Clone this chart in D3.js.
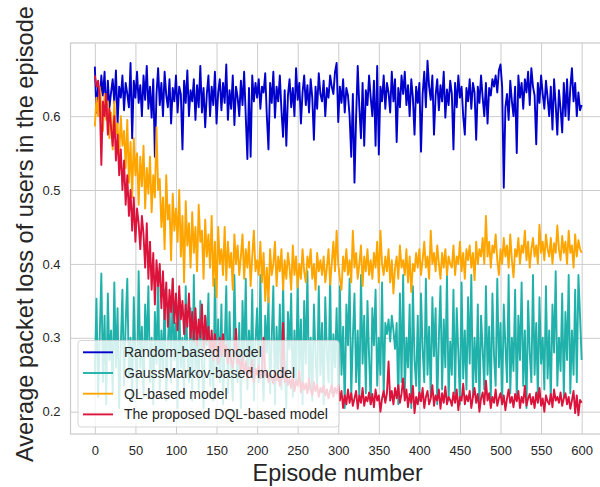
<!DOCTYPE html>
<html><head><meta charset="utf-8">
<script src="https://cdn.jsdelivr.net/npm/d3@7"></script>
<style>body{margin:0;background:#fff}svg{display:block}</style>
</head><body>
<svg id="chart" width="600" height="487"></svg>
<script>
// Episodes sampled every 2 episodes (0..600)
const episodes = d3.range(0, 601, 2);
const seriesNames = ["Random-based model", "GaussMarkov-based model", "QL-based model", "The proposed DQL-based model"];
const seriesColors = ["#0000cd", "#20b2aa", "#ffa500", "#dc143c"];
const xTickValues = [0, 50, 100, 150, 200, 250, 300, 350, 400, 450, 500, 550, 600];
const yTickValues = [0.2, 0.3, 0.4, 0.5, 0.6];

const randomModel = [
.667,.605,.640,.615,.655,.628,.660,.598,.648,.612,
.632,.650,.618,.662,.590,.640,.625,.655,.608,.645,
.630,.612,.672,.570,.648,.625,.660,.618,.642,.600,
.655,.622,.668,.610,.640,.598,.650,.545,.630,.665,
.615,.645,.600,.660,.628,.612,.650,.590,.638,.620,
.655,.605,.640,.630,.555,.648,.618,.662,.600,.635,
.620,.650,.595,.642,.612,.668,.605,.638,.585,.630,
.655,.600,.640,.615,.660,.590,.632,.650,.608,.645,
.618,.670,.595,.635,.610,.655,.588,.640,.625,.600,
.648,.615,.660,.600,.542,.638,.545,.655,.620,.645,
.625,.650,.610,.640,.632,.658,.600,.555,.645,.618,
.660,.598,.640,.620,.655,.608,.572,.635,.560,.628,
.650,.612,.638,.600,.665,.622,.645,.590,.632,.655,
.615,.642,.605,.650,.625,.568,.640,.610,.658,.630,
.620,.648,.600,.638,.625,.655,.640,.630,.660,.672,
.592,.640,.618,.650,.605,.638,.628,.600,.545,.630,
.510,.598,.668,.612,.570,.645,.560,.635,.615,.655,
.625,.600,.648,.560,.668,.548,.640,.620,.655,.610,
.645,.632,.605,.660,.620,.650,.565,.638,.612,.655,
.630,.660,.615,.642,.600,.650,.625,.575,.640,.618,
.645,.552,.630,.660,.612,.675,.640,.622,.655,.575,
.628,.650,.608,.642,.620,.660,.598,.636,.615,.648,
.630,.555,.645,.612,.655,.625,.640,.600,.575,.638,
.620,.650,.610,.645,.632,.568,.640,.618,.655,.625,
.600,.645,.590,.638,.628,.650,.640,.655,.632,.662,
.670,.640,.503,.612,.630,.595,.648,.620,.600,.640,
.550,.655,.625,.645,.610,.650,.632,.660,.615,.665,
.640,.628,.562,.645,.618,.655,.630,.610,.648,.625,
.600,.640,.582,.650,.615,.575,.635,.610,.578,.645,
.600,.650,.595,.638,.665,.620,.645,.600,.632,.608,
.615];

const gaussMarkovModel = [
.250,.353,.220,.300,.387,.240,.330,.210,.360,.270,
.310,.225,.375,.260,.340,.205,.290,.365,.235,.320,
.380,.245,.300,.215,.355,.275,.230,.390,.260,.315,
.220,.345,.285,.370,.240,.300,.210,.335,.265,.385,
.230,.310,.255,.365,.215,.290,.345,.240,.380,.270,
.320,.205,.355,.260,.300,.225,.370,.280,.240,.340,
.215,.385,.250,.310,.230,.350,.270,.205,.330,.290,
.360,.235,.300,.215,.380,.255,.325,.240,.345,.210,
.290,.370,.225,.335,.260,.215,.385,.280,.240,.320,
.205,.350,.270,.380,.230,.310,.255,.365,.215,.295,
.340,.240,.385,.260,.215,.330,.280,.355,.225,.300,
.370,.210,.315,.250,.345,.230,.375,.265,.205,.335,
.285,.360,.220,.310,.240,.380,.255,.325,.210,.350,
.265,.390,.230,.300,.215,.345,.275,.235,.370,.250,
.320,.210,.355,.280,.240,.385,.225,.305,.260,.340,
.230,.370,.250,.315,.205,.345,.290,.380,.220,.300,
.360,.240,.310,.215,.385,.265,.330,.225,.350,.275,
.210,.340,.290,.365,.235,.300,.250,.375,.220,.320,
.305,.325,.295,.330,.310,.285,.320,.210,.360,.240,
.385,.225,.300,.260,.345,.205,.370,.270,.235,.330,
.215,.360,.285,.240,.380,.250,.315,.220,.355,.275,
.340,.210,.300,.370,.230,.325,.260,.385,.215,.295,
.250,.365,.225,.340,.280,.210,.375,.245,.310,.230,
.355,.265,.385,.220,.300,.240,.345,.205,.330,.285,
.230,.370,.250,.315,.215,.360,.275,.235,.380,.260,
.320,.210,.345,.290,.240,.385,.225,.300,.255,.365,
.215,.330,.270,.375,.235,.310,.205,.350,.280,.240,
.385,.250,.320,.220,.355,.265,.300,.230,.370,.245,
.310,.215,.345,.280,.390,.235,.300,.255,.360,.220,
.335,.270,.385,.225,.310,.250,.365,.240,.385,.330,
.270];

const qlModel = [
.586,.625,.600,.640,.610,.580,.630,.595,.620,.570,
.605,.555,.620,.575,.590,.545,.600,.560,.580,.530,
.595,.510,.565,.490,.570,.520,.550,.480,.545,.505,
.560,.475,.530,.495,.545,.470,.520,.490,.585,.500,
.515,.450,.490,.420,.520,.460,.480,.405,.495,.445,
.475,.430,.500,.410,.465,.375,.485,.425,.455,.395,
.470,.415,.450,.390,.480,.430,.445,.380,.460,.410,
.440,.395,.465,.370,.430,.355,.450,.400,.420,.385,
.450,.378,.430,.395,.415,.365,.440,.400,.425,.385,
.410,.440,.380,.420,.395,.430,.370,.410,.445,.390,
.405,.385,.430,.375,.415,.350,.395,.348,.420,.385,
.400,.430,.370,.410,.390,.420,.365,.405,.380,.415,
.395,.365,.425,.385,.410,.368,.400,.380,.420,.390,
.375,.410,.395,.420,.380,.400,.365,.415,.390,.405,
.385,.410,.375,.395,.420,.372,.400,.430,.390,.445,
.400,.380,.365,.410,.390,.420,.385,.405,.375,.445,
.395,.415,.380,.400,.425,.370,.410,.390,.420,.385,
.405,.380,.415,.395,.430,.375,.445,.400,.385,.410,
.390,.420,.375,.405,.360,.395,.410,.380,.425,.395,
.405,.385,.420,.375,.410,.362,.400,.390,.415,.395,
.420,.385,.405,.430,.395,.410,.380,.445,.400,.415,
.390,.425,.400,.380,.415,.395,.420,.385,.410,.400,
.395,.425,.385,.410,.400,.430,.390,.415,.380,.420,
.405,.425,.395,.415,.378,.430,.400,.420,.410,.435,
.400,.465,.410,.430,.395,.425,.415,.440,.405,.385,
.420,.400,.435,.410,.425,.395,.440,.405,.382,.420,
.410,.435,.400,.425,.415,.445,.405,.430,.395,.420,
.435,.410,.425,.400,.453,.415,.430,.405,.440,.420,
.410,.435,.400,.428,.415,.452,.420,.405,.438,.415,
.430,.400,.445,.415,.425,.395,.440,.410,.432,.420,
.415];

const dqlModel = [
.655,.640,.648,.625,.534,.620,.600,.630,.575,.610,
.585,.560,.600,.540,.575,.520,.555,.500,.540,.480,
.520,.465,.500,.445,.490,.430,.475,.455,.420,.465,
.440,.395,.455,.380,.430,.365,.415,.345,.405,.370,
.400,.340,.390,.325,.375,.315,.365,.335,.380,.320,
.360,.310,.370,.325,.350,.305,.345,.315,.360,.300,
.335,.295,.340,.290,.325,.300,.345,.285,.330,.295,
.315,.280,.310,.270,.305,.285,.265,.300,.275,.305,
.275,.290,.265,.285,.270,.260,.280,.312,.265,.270,
.255,.275,.250,.268,.245,.260,.252,.270,.240,.258,
.250,.262,.245,.258,.300,.248,.255,.240,.252,.245,
.238,.255,.242,.250,.235,.248,.320,.240,.252,.236,
.245,.232,.250,.228,.242,.235,.255,.226,.240,.230,
.238,.225,.245,.230,.222,.240,.228,.236,.220,.232,
.226,.235,.222,.230,.218,.228,.236,.220,.232,.225,
.236,.215,.228,.205,.222,.210,.230,.212,.225,.208,
.218,.228,.204,.222,.212,.232,.208,.220,.214,.226,
.210,.224,.206,.230,.215,.222,.200,.218,.228,.212,
.225,.268,.215,.228,.210,.232,.218,.236,.212,.224,
.245,.215,.230,.206,.224,.212,.235,.198,.220,.210,
.226,.214,.232,.205,.220,.228,.210,.218,.236,.208,
.222,.215,.230,.204,.225,.212,.234,.210,.220,.216,
.208,.226,.212,.230,.202,.220,.215,.238,.210,.222,
.214,.228,.205,.220,.232,.212,.224,.200,.218,.226,
.210,.242,.215,.225,.205,.220,.212,.230,.208,.218,
.225,.210,.222,.202,.218,.230,.212,.220,.206,.224,
.214,.228,.205,.220,.212,.235,.208,.218,.224,.210,
.220,.205,.226,.212,.232,.208,.218,.200,.222,.214,
.210,.224,.206,.230,.215,.220,.212,.226,.208,.218,
.225,.210,.220,.204,.215,.228,.198,.222,.195,.216,
.212];

const allSeries = [randomModel, gaussMarkovModel, qlModel, dqlModel];

const svg = d3.select("#chart");
const W = 600, H = 487;
const m = {left: 70.5, top: 43, right: 606, bottom: 434};
const font = "'Liberation Sans', Arial, sans-serif";
const textColor = "#262626";
const gridColor = "#cccccc";

const x = d3.scaleLinear().domain([-30, 630]).range([m.left, m.right]);
const y = d3.scaleLinear().domain([0.1698, 0.699]).range([m.bottom, m.top]);

svg.append("rect").attr("width", W).attr("height", H).attr("fill", "#fff");

// grid + axes
const xAxis = d3.axisBottom(x).tickValues(xTickValues).tickSize(-(m.bottom - m.top)).tickPadding(12).tickFormat(d3.format("d"));
const yAxis = d3.axisLeft(y).tickValues(yTickValues).tickSize(-(m.right - m.left)).tickPadding(10).tickFormat(d3.format(".1f"));

const gx = svg.append("g").attr("transform", `translate(0,${m.bottom})`).call(xAxis);
const gy = svg.append("g").attr("transform", `translate(${m.left},0)`).call(yAxis);
[gx, gy].forEach(g => {
  g.select(".domain").remove();
  g.selectAll(".tick line").attr("stroke", gridColor).attr("stroke-width", 1);
  g.selectAll(".tick text").attr("fill", textColor).style("font-family", font).style("font-size", "13px");
});

// frame
svg.append("rect").attr("x", m.left).attr("y", m.top)
  .attr("width", m.right - m.left).attr("height", m.bottom - m.top)
  .attr("fill", "none").attr("stroke", gridColor).attr("stroke-width", 1.25);

// lines
const line = d3.line().x((d, i) => x(episodes[i])).y(d => y(d));
allSeries.forEach((s, k) => {
  svg.append("path").datum(s).attr("d", line)
    .attr("fill", "none").attr("stroke", seriesColors[k])
    .attr("stroke-width", 1.9).attr("stroke-linejoin", "round");
});

// legend
const lg = svg.append("g");
const lx = 78, ly = 340.5, lw = 261, lh = 86.5;
lg.append("rect").attr("x", lx).attr("y", ly).attr("width", lw).attr("height", lh)
  .attr("rx", 3).attr("fill", "#fff").attr("fill-opacity", 0.8)
  .attr("stroke", "#cccccc").attr("stroke-opacity", 0.8).attr("stroke-width", 1);
seriesNames.forEach((name, k) => {
  const cy = 352.3 + k * 20.7;
  lg.append("line").attr("x1", 83).attr("x2", 113).attr("y1", cy).attr("y2", cy)
    .attr("stroke", seriesColors[k]).attr("stroke-width", 1.9);
  lg.append("text").attr("x", 124).attr("y", cy).attr("dy", "0.35em")
    .attr("fill", textColor).style("font-family", font).style("font-size", "14px").text(name);
});

// axis labels
svg.append("text").attr("x", (m.left + m.right) / 2 - 0.5).attr("y", 480.5)
  .attr("text-anchor", "middle").attr("fill", textColor)
  .style("font-family", font).style("font-size", "23.4px").text("Episode number");
svg.append("text").attr("transform", `translate(33,234) rotate(-90)`)
  .attr("text-anchor", "middle").attr("fill", textColor)
  .style("font-family", font).style("font-size", "23.6px").text("Average packet loss of users in the episode");
</script>
</body></html>
